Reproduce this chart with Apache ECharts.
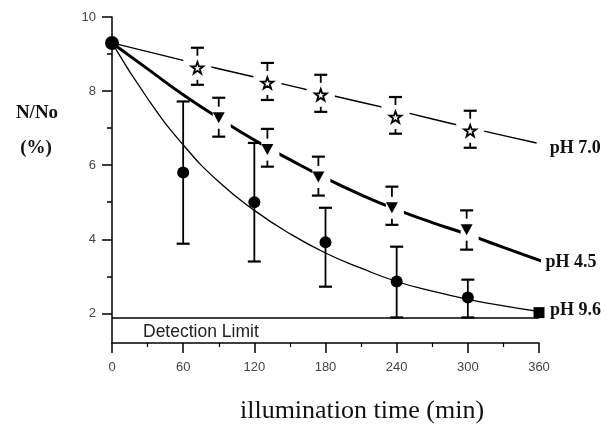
<!DOCTYPE html>
<html><head><meta charset="utf-8">
<script src="https://cdn.jsdelivr.net/npm/echarts@6/dist/echarts.min.js"></script>
<style>html,body{margin:0;padding:0;background:#fff}#c{width:606px;height:425px}</style>
</head><body><div id="c"></div>
<script>
// ---- axes ----
const xTicks = [0, 60, 120, 180, 240, 300, 360];
const yTicks = [2, 4, 6, 8, 10];
const yMinorTicks = [3, 5, 7, 9];
const yMin = 1.2, yMax = 10;
const detectionLimit = 1.88;

// ---- shared start point ----
const startT = 0, startV = 9.3;

// ---- pH 9.6 (filled circles) ----
const t96 = [60, 120, 180, 240, 300];
const v96 = [5.8, 5.0, 3.92, 2.86, 2.43];
const hi96 = [7.72, 6.6, 4.85, 3.8, 2.91];
const lo96 = [3.88, 3.4, 2.72, 1.89, 1.89];
const endT96 = 360, endV96 = 2.02;
const fitT96 = [0, 30, 60, 90, 120, 150, 180, 210, 240, 270, 300, 330, 360];
const fitV96 = [9.3, 7.8, 6.55, 5.55, 4.78, 4.15, 3.63, 3.22, 2.86, 2.6, 2.38, 2.2, 2.05];

// ---- pH 4.5 (inverted triangles) ----
const t45 = [90, 131, 174, 236, 299];
const v45 = [7.28, 6.42, 5.68, 4.85, 4.26];
const hi45 = [7.82, 6.98, 6.23, 5.42, 4.78];
const lo45 = [6.77, 5.96, 5.18, 4.39, 3.72];
const fitT45 = [0, 30, 60, 90, 120, 150, 180, 210, 240, 270, 300, 330, 363];
const fitV45 = [9.3, 8.6, 7.9, 7.27, 6.68, 6.15, 5.65, 5.2, 4.8, 4.45, 4.13, 3.78, 3.4];

// ---- pH 7.0 (open stars) ----
const t70 = [72, 131, 176, 239, 302];
const v70 = [8.63, 8.22, 7.9, 7.3, 6.93];
const hi70 = [9.17, 8.76, 8.44, 7.84, 7.47];
const lo70 = [8.17, 7.76, 7.44, 6.85, 6.47];
const fitT70 = [0, 60, 120, 180, 240, 300, 358];
const fitV70 = [9.3, 8.83, 8.38, 7.92, 7.48, 7.02, 6.6];

const labels = { ph70: 'pH 7.0', ph45: 'pH 4.5', ph96: 'pH 9.6' };

const zip = (a, b) => a.map((v, i) => [v, b[i]]);
const zip3 = (a, b, c) => a.map((v, i) => [v, b[i], c[i]]);

function errRender(params, api) {
  const x = api.value(0), hi = api.value(1), lo = api.value(2);
  const pHi = api.coord([x, hi]), pLo = api.coord([x, lo]);
  const w = 6.5;
  const cap = { stroke: '#000', lineWidth: 2.2 };
  return { type: 'group', children: [
    { type: 'line', shape: { x1: pHi[0], y1: pHi[1], x2: pLo[0], y2: pLo[1] }, style: { stroke: '#000', lineWidth: 1.8 } },
    { type: 'line', shape: { x1: pHi[0] - w, y1: pHi[1], x2: pHi[0] + w, y2: pHi[1] }, style: cap },
    { type: 'line', shape: { x1: pLo[0] - w, y1: pLo[1], x2: pLo[0] + w, y2: pLo[1] }, style: cap }
  ]};
}

const starPath = 'path://M0,-10 L2.35,-3.24 9.51,-3.09 3.8,1.24 5.88,8.09 0,4 -5.88,8.09 -3.8,1.24 -9.51,-3.09 -2.35,-3.24 Z';

const chart = echarts.init(document.getElementById('c'));
const black = '#000';
const axisLbl = { color: '#444', fontSize: 13, fontFamily: 'Liberation Sans, Arial, sans-serif' };

chart.setOption({
  animation: false,
  backgroundColor: '#fff',
  grid: { left: 112, right: 67, top: 17, bottom: 82 },
  xAxis: {
    type: 'value', min: xTicks[0], max: xTicks[xTicks.length - 1], interval: 60,
    axisLine: { onZero: false, lineStyle: { color: black, width: 1.5 } },
    axisTick: { length: 10, lineStyle: { color: black, width: 1.5 } },
    minorTick: { show: true, splitNumber: 2, length: 4, lineStyle: { color: black, width: 1.2 } },
    axisLabel: Object.assign({ margin: 18 }, axisLbl),
    splitLine: { show: false }, minorSplitLine: { show: false }
  },
  yAxis: [{
    type: 'value', min: yMin, max: yMax, position: 'left',
    axisLine: { show: true, onZero: false, lineStyle: { color: black, width: 1.5 } },
    axisTick: { show: true, customValues: yTicks, length: 10, lineStyle: { color: black, width: 1.5 } },
    axisLabel: Object.assign({ customValues: yTicks, margin: 16 }, axisLbl),
    splitLine: { show: false }
  }, {
    type: 'value', min: yMin, max: yMax, position: 'left',
    axisLine: { show: false },
    axisTick: { show: true, customValues: yMinorTicks, length: 5, lineStyle: { color: black, width: 1.5 } },
    axisLabel: { show: false },
    splitLine: { show: false }
  }],
  series: [
    { name: 'fit96', type: 'line', smooth: true, showSymbol: false, z: 2,
      data: zip(fitT96, fitV96), lineStyle: { color: black, width: 1.3 },
      markLine: { silent: true, symbol: 'none', label: { show: false },
        lineStyle: { color: black, width: 1.5, type: 'solid' }, data: [{ yAxis: detectionLimit }] } },
    { name: 'fit45', type: 'line', smooth: true, showSymbol: false, z: 2,
      data: zip(fitT45, fitV45), lineStyle: { color: black, width: 3 } },
    { name: 'fit70', type: 'line', smooth: true, showSymbol: false, z: 2,
      data: zip(fitT70, fitV70), lineStyle: { color: black, width: 1.4 } },
    { name: 'err96', type: 'custom', renderItem: errRender, z: 3, encode: { x: 0, y: [1, 2] },
      data: zip3(t96, hi96, lo96) },
    { name: 'err45', type: 'custom', renderItem: errRender, z: 3, encode: { x: 0, y: [1, 2] },
      data: zip3(t45, hi45, lo45) },
    { name: 'err70', type: 'custom', renderItem: errRender, z: 3, encode: { x: 0, y: [1, 2] },
      data: zip3(t70, hi70, lo70) },
    { name: 'mask45', type: 'scatter', z: 4, symbol: 'rect', symbolSize: [18, 22], symbolOffset: [3, 0],
      itemStyle: { color: '#fff', opacity: 1 }, data: zip(t45, v45), silent: true },
    { name: 'mask70', type: 'scatter', z: 4, symbol: 'rect', symbolSize: [28, 24], symbolOffset: [0, 0],
      itemStyle: { color: '#fff', opacity: 1 }, data: zip(t70, v70), silent: true },
    { name: 'pH 9.6', type: 'scatter', z: 5, symbol: 'circle', symbolSize: 12,
      itemStyle: { color: black, opacity: 1 }, data: zip(t96, v96) },
    { name: 'end96', type: 'scatter', z: 5, symbol: 'rect', symbolSize: 11,
      itemStyle: { color: black, opacity: 1 }, data: [[endT96, endV96]] },
    { name: 'pH 4.5', type: 'scatter', z: 5, symbol: 'triangle', symbolRotate: 180, symbolSize: [12, 11],
      itemStyle: { color: black, opacity: 1 }, data: zip(t45, v45) },
    { name: 'pH 7.0', type: 'scatter', z: 5, symbol: starPath, symbolKeepAspect: true, symbolSize: 12,
      itemStyle: { color: '#fff', borderColor: black, borderWidth: 1.8, opacity: 1 }, data: zip(t70, v70) },
    { name: 'start', type: 'scatter', z: 6, symbol: 'circle', symbolSize: 14,
      itemStyle: { color: black, opacity: 1 }, data: [[startT, startV]] }
  ]
});

const serif = 'Liberation Serif, Times New Roman, serif';
function txt(text, x, y, font, align, fill) {
  return { type: 'text', x: x, y: y, z: 100, style: { text: text, font: font, fill: fill || '#000',
    textAlign: align || 'left', textVerticalAlign: 'middle' } };
}
const p70 = chart.convertToPixel({ gridIndex: 0 }, [fitT70[fitT70.length - 1], fitV70[fitV70.length - 1]]);
const p45 = chart.convertToPixel({ gridIndex: 0 }, [fitT45[fitT45.length - 1], fitV45[fitV45.length - 1]]);
const p96 = chart.convertToPixel({ gridIndex: 0 }, [endT96, endV96]);
const pDet = chart.convertToPixel({ gridIndex: 0 }, [0, detectionLimit]);

chart.setOption({
  graphic: [
    txt('N/No', 37, 113, 'bold 19px ' + serif, 'center', '#111'),
    txt('(%)', 36, 148, 'bold 19px ' + serif, 'center', '#111'),
    txt('illumination time (min)', 362, 411, '26px ' + serif, 'center', '#111'),
    txt('Detection Limit', pDet[0] + 31, pDet[1] + 14, '17.5px Liberation Sans, Arial, sans-serif', 'left', '#222'),
    txt(labels.ph70, p70[0] + 13, p70[1] + 5, 'bold 18px ' + serif, 'left', '#111'),
    txt(labels.ph45, p45[0] + 3, p45[1] + 1, 'bold 18px ' + serif, 'left', '#111'),
    txt(labels.ph96, p96[0] + 11, p96[1] - 2, 'bold 18px ' + serif, 'left', '#111')
  ]
});
</script></body></html>
